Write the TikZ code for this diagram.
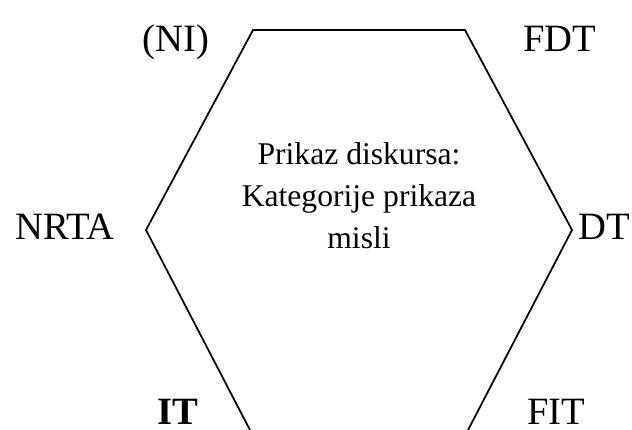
\documentclass[tikz,border=0pt]{standalone}
\usepackage{fontspec}
\setmainfont{Liberation Serif}
\usetikzlibrary{positioning}

\begin{document}
\begin{tikzpicture}[
    corner/.style={font=\fontsize{22}{26}\selectfont,inner sep=0pt,anchor=base},
    inside/.style={font=\fontsize{18}{22}\selectfont,inner sep=0pt,anchor=base},
]
        \useasboundingbox (0,0) rectangle (12.64,8.6);
        \clip (0,0) rectangle (12.64,8.6);
        % hexagon corners
        \coordinate (tl) at (5.06,8.0);
        \coordinate (tr) at (9.30,8.0);
        \coordinate (r) at (11.44,4.0);
        \coordinate (br) at (9.34,-0.04);
        \coordinate (bl) at (5.02,-0.04);
        \coordinate (l) at (2.92,4.0);
        \draw[line width=1pt] (tl) -- (tr) -- (r) -- (br) -- (bl) -- (l) -- cycle;
        % text in the middle
        \node[inside] (title) at (7.18,5.30) {Prikaz diskursa:};
        \node[inside] (cat) at (7.18,4.46) {Kategorije prikaza};
        \node[inside] (misli) at (7.18,3.62) {misli};
        % labels round it
        \node[corner] (ni) at (3.52,7.56) {(NI)};
        \node[corner] (fdt) at (11.2,7.56) {FDT};
        \node[corner] (nrta) at (1.3,3.80) {NRTA};
        \node[corner,anchor=base west] (dt) at (11.56,3.80) {DT};
        \node[corner,font=\fontsize{22}{26}\selectfont\bfseries] (it) at (3.55,0.1) {IT};
        \node[corner] (fit) at (11.12,0.1) {FIT};
\end{tikzpicture}
\end{document}
